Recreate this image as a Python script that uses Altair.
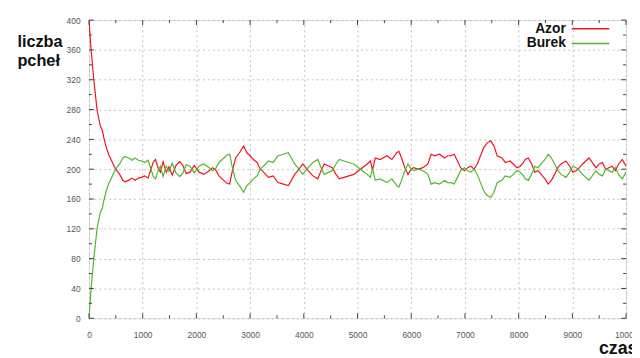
import altair as alt
import pandas as pd

# ---- data ----
czas = [0, 40, 90, 150, 180, 210, 250, 280, 320, 370, 430, 490, 540, 580, 630, 670,
        740, 800, 860, 920, 980, 1040, 1100, 1150, 1200, 1240, 1290, 1330, 1380, 1440,
        1490, 1550, 1620, 1690, 1750, 1810, 1880, 1960,
        2050, 2140, 2240, 2300, 2360, 2420, 2510, 2570, 2620, 2670, 2730, 2820, 2880,
        2940, 3000, 3060, 3130, 3190, 3250, 3340, 3430, 3520, 3620, 3710, 3770, 3830,
        3890, 3980,
        4080, 4170, 4260, 4320, 4380, 4470, 4530, 4600, 4660, 4750, 4840, 4930, 5020,
        5090, 5180, 5240, 5280, 5330, 5420, 5550, 5640, 5730, 5770, 5820, 5880, 5940, 6000,
        6040, 6130, 6220, 6310, 6370, 6430, 6530, 6620, 6680, 6740, 6800, 6860, 6920,
        6990, 7050, 7110, 7170, 7230, 7290, 7350, 7410, 7480, 7540, 7600, 7690, 7750,
        7840, 7900, 7970, 8030,
        8090, 8120, 8180, 8240, 8300, 8360, 8420, 8490, 8550, 8610, 8670, 8730, 8790,
        8880, 8950, 9010, 9070, 9130, 9190, 9250, 9310, 9370, 9440, 9500, 9560, 9620,
        9680, 9740, 9800, 9860, 9930, 10000]

azor = [400, 360, 320, 280, 269, 258, 252, 241, 230, 219, 210, 201, 196, 192, 185, 183,
        185, 188, 185, 188, 189, 191, 188, 199, 210, 213, 201, 196, 210, 196,
        203, 192, 205, 210, 205, 194, 196, 205,
        196, 193, 198, 202, 199, 191, 185, 181, 180, 198, 215, 224, 231,
        222, 218, 213, 209, 200, 196, 189, 191, 182, 180, 178, 185, 193,
        198, 207,
        198, 191, 187, 198, 207, 204, 202, 193, 187, 189, 191, 193, 198,
        202, 207, 211, 199, 215, 213, 218, 213, 222, 224, 215, 202, 193, 200,
        202, 200, 202, 207, 220, 218, 220, 215, 218, 218, 220, 211, 202,
        198, 202, 204, 200, 207, 218, 229, 235, 238, 231, 218, 215, 209,
        211, 207, 202, 204,
        209, 213, 215, 207, 196, 198, 193, 187, 180, 185, 193, 202, 207,
        211, 204, 196, 198, 202, 207, 211, 215, 209, 202, 207, 209, 200,
        202, 204, 198, 207, 213, 204]

burek = [0, 40, 80, 120, 131, 142, 148, 159, 170, 181, 190, 199, 204, 208, 215, 217,
         215, 212, 215, 212, 211, 209, 212, 201, 190, 187, 199, 204, 190, 204,
         197, 208, 195, 190, 195, 206, 204, 195,
         204, 207, 202, 198, 201, 209, 215, 219, 220, 202, 185, 176, 169,
         178, 182, 187, 191, 200, 204, 211, 209, 218, 220, 222, 215, 207,
         202, 193,
         202, 209, 213, 202, 193, 196, 198, 207, 213, 211, 209, 207, 202,
         198, 193, 189, 201, 185, 187, 182, 187, 178, 176, 185, 198, 207, 200,
         198, 200, 198, 193, 180, 182, 180, 185, 182, 182, 180, 189, 198,
         202, 198, 196, 200, 193, 182, 171, 165, 162, 169, 182, 185, 191,
         189, 193, 198, 196,
         191, 187, 185, 193, 204, 202, 207, 213, 220, 215, 207, 198, 193,
         189, 196, 204, 202, 198, 193, 189, 185, 191, 198, 193, 191, 200,
         198, 196, 202, 193, 187, 196]

series_names = ["Azor", "Burek"]
series_colors = ["#f0141e", "#52b62e"]

x_major = list(range(0, 10001, 1000))
x_minor = list(range(500, 10000, 1000))
y_major = list(range(0, 401, 40))
y_minor = list(range(20, 400, 40))

W, H = 544, 302
n = len(czas)
df = pd.DataFrame({
    "czas": czas + czas,
    "liczba": azor + burek,
    "pies": [series_names[0]] * n + [series_names[1]] * n,
})

FONT = "Liberation Sans"
xscale = alt.Scale(domain=[0, 10000], nice=False, zero=False)
yscale = alt.Scale(domain=[0, 400], nice=False)

x_axis = alt.Axis(values=x_major, format="d", title="czas", titleX=516, titleY=36,
                  titleAlign="left", titleBaseline="alphabetic",
                  titleFontSize=18, titleFontWeight="bold", titleFont=FONT,
                  titleColor="#111111", labelFontSize=8.5, labelColor="#555555",
                  labelFont=FONT, labelPadding=12, ticks=False, domain=False,
                  grid=True, gridDash=[2, 3], gridColor="#c0c0c0",
                  labelFlush=False, labelOverlap=False)
y_axis = alt.Axis(values=y_major, format="d", title=["liczba", "pcheł"], titleAngle=0,
                  titleX=-73, titleY=27, titleAlign="left",
                  titleBaseline="alphabetic", titleLineHeight=18.5,
                  titleFontSize=16.5, titleFontWeight="bold", titleFont=FONT,
                  titleColor="#111111", labelFontSize=8.5, labelColor="#555555",
                  labelFont=FONT, labelPadding=9, ticks=False, domain=False,
                  grid=True, gridDash=[2, 3], gridColor="#c0c0c0",
                  labelFlush=False, labelOverlap=False)

X = alt.X("czas:Q", scale=xscale, axis=x_axis)
Y = alt.Y("liczba:Q", scale=yscale, axis=y_axis)

lines = alt.Chart(df).mark_line(strokeWidth=1.2, clip=True).encode(
    x=X, y=Y,
    color=alt.Color("pies:N", scale=alt.Scale(domain=series_names, range=series_colors),
                    legend=None),
)

TICK = "#404040"
def xticks(vals, L):
    d = pd.DataFrame({"czas": vals})
    b = alt.Chart(d).mark_rule(color=TICK, strokeWidth=1).encode(
        x=X, y=alt.value(H), y2=alt.value(H - L))
    t = alt.Chart(d).mark_rule(color=TICK, strokeWidth=1).encode(
        x=X, y=alt.value(0), y2=alt.value(L))
    return [b, t]

def yticks(vals, L):
    d = pd.DataFrame({"liczba": vals})
    l = alt.Chart(d).mark_rule(color=TICK, strokeWidth=1).encode(
        y=Y, x=alt.value(0), x2=alt.value(L))
    r = alt.Chart(d).mark_rule(color=TICK, strokeWidth=1).encode(
        y=Y, x=alt.value(W), x2=alt.value(W - L))
    return [l, r]

tick_layers = xticks(x_major, 5) + xticks(x_minor, 3) + yticks(y_major, 5) + yticks(y_minor, 3)

legend_layers = []
for i, (name, col) in enumerate(zip(series_names, series_colors)):
    d = pd.DataFrame({"pies": [name]})
    legend_layers.append(
        alt.Chart(d).mark_text(align="right", baseline="alphabetic", fontSize=14,
                               fontWeight="bold", font=FONT, color="#111111").encode(
            x=alt.value(483), y=alt.value(12.7 + 15 * i), text="pies:N"))
    legend_layers.append(
        alt.Chart(d).mark_rule(color=col, strokeWidth=1.5).encode(
            x=alt.value(489), x2=alt.value(527), y=alt.value(8.7 + 15 * i)))

chart = alt.layer(lines, *tick_layers, *legend_layers).properties(
    width=W, height=H,
    autosize=alt.AutoSizeParams(type="none"),
    padding={"left": 82, "top": 10, "right": 6, "bottom": 38},
).configure_view(stroke="#404040", strokeWidth=1).configure(background="white")

chart.save("out.html", embed_options={"renderer": "svg", "actions": False})
